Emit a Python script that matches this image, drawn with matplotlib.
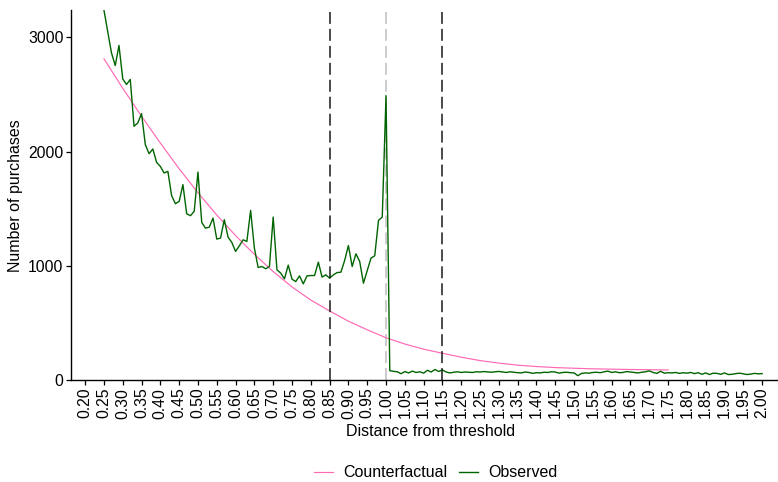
import matplotlib
matplotlib.use("Agg")
import matplotlib.pyplot as plt
import numpy as np

plt.rcParams["font.family"] = ["Liberation Sans", "DejaVu Sans"]

# observed purchases, one value per 0.01 of distance (0.25 .. 2.00)
distance = np.round(np.arange(0.25, 2.001, 0.01), 2)
observed = [
    3240, 3050, 2865, 2754, 2930, 2637, 2588, 2632, 2222, 2251,
    2333, 2061, 1982, 2023, 1906, 1870, 1813, 1827, 1614, 1544,
    1564, 1711, 1456, 1439, 1477, 1821, 1380, 1330, 1339, 1418,
    1234, 1243, 1404, 1251, 1205, 1126, 1175, 1228, 1213, 1485,
    1155, 985, 994, 974, 994, 1427, 965, 936, 886, 1006,
    883, 862, 912, 842, 912, 915, 915, 1032, 901, 921,
    892, 921, 941, 944, 1047, 1178, 994, 1105, 1038, 848,
    959, 1067, 1088, 1398, 1427, 2490,
    82, 76, 72, 55, 74, 62, 78, 66, 72, 60,
    85, 70, 92, 75, 88, 70, 62, 68, 72, 66,
    70, 68, 66, 72, 70, 74, 71, 68, 72, 75,
    70, 66, 72, 68, 64, 62, 70, 66, 58, 64,
    62, 68, 66, 72, 70, 60, 66, 68, 64, 62,
    38, 58, 62, 60, 66, 68, 64, 72, 78, 66,
    72, 64, 66, 74, 70, 66, 62, 68, 72, 80,
    66, 58, 76, 60, 64, 62, 66, 58, 64, 60,
    66, 56, 64, 50, 62, 48, 60, 58, 50, 62,
    48, 50, 56, 60, 54, 48, 52, 58, 54, 56,
]

# counterfactual read every 0.05 (0.25 .. 1.75)
cf_distance = np.round(np.arange(0.25, 1.751, 0.05), 2)
counterfactual = [
    2813, 2555, 2310, 2075, 1850, 1640, 1445, 1265, 1100, 950,
    815, 700, 605, 515, 440, 370, 315, 270, 234, 200,
    170, 148, 130, 118, 109, 103, 98, 95, 92, 90, 88,
]

bunching_window = [0.85, 1.15]
threshold = 1.00
tick_values = np.round(np.arange(0.20, 2.001, 0.05), 2)


def main():
    fig = plt.figure(figsize=(7.78, 4.82), dpi=100)
    ax = fig.add_axes([0.0913, 0.2116, 0.9306, 0.7676])

    ax.plot(cf_distance, counterfactual, color="#ff69b4", lw=0.85,
            label="Counterfactual", zorder=2)
    ax.plot(distance, observed, color="#006400", lw=1.0,
            label="Observed", zorder=2)

    for x in bunching_window:
        ax.axvline(x, color="#1a1a1a", lw=1.1, dashes=(7.8, 3.3), zorder=3)
    ax.axvline(threshold, color="#bebebe", lw=1.1, dashes=(7.8, 3.3), zorder=1.5)

    ax.set_xlim(0.1625, 2.0875)
    ax.set_ylim(0, max(observed[:10]))
    ax.set_xticks(tick_values)
    ax.set_xticklabels([f"{v:.2f}" for v in tick_values], rotation=90)
    ax.set_yticks([0, 1000, 2000, 3000])

    for side in ["top", "right"]:
        ax.spines[side].set_visible(False)
    for side in ["left", "bottom"]:
        ax.spines[side].set_linewidth(1.0)
        ax.spines[side].set_color("black")
    ax.tick_params(length=3.5, width=0.9, colors="black", labelsize=11.3, pad=2)

    fig.text(0.554, 0.104, "Distance from threshold", ha="center", va="center",
             fontsize=11.5)
    fig.text(0.02, 0.595, "Number of purchases", ha="center", va="center",
             rotation=90, fontsize=11.5)

    fig.legend(loc="center", bbox_to_anchor=(0.560, 0.019), ncol=2,
               frameon=False, fontsize=11.5, handlelength=1.2,
               handletextpad=0.6, columnspacing=0.75, borderpad=0.2)

    fig.savefig("out.png", dpi=100)
    plt.close(fig)


if __name__ == "__main__":
    main()
